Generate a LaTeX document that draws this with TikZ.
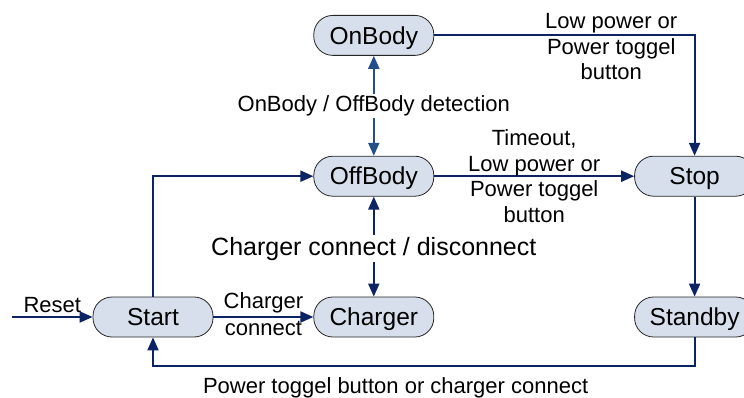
\documentclass[tikz,border=0pt]{standalone}
\usepackage{fontspec}
\setmainfont{Liberation Sans}
\usepackage{tikz}
\usetikzlibrary{arrows.meta}
\usetikzlibrary{positioning}

\definecolor{navyline}{RGB}{12,35,100}
\definecolor{steelline}{RGB}{34,78,138}
\definecolor{statefill}{RGB}{214,223,235}

\begin{document}
\begin{tikzpicture}[
		x=1pt, y=-1pt,
		->,
		>={Triangle[length=13pt,width=11pt]},
		node distance=100pt,
		main node/.style={font=\fontsize{24.5}{28}\selectfont},
		state node/.style={
			main node,
			rectangle,
			rounded corners=19pt,
			draw=black!85,
			line width=0.8pt,
			fill=statefill,
			minimum width=120pt,
			minimum height=40pt,
			text height=17.5pt,
			text depth=0pt,
			inner sep=0pt
		},
		flow/.style={draw=navyline, line width=2pt},
		detect/.style={draw=steelline, line width=2pt},
		edge label/.style={font=\fontsize{22}{25.5}\selectfont, align=center, text=black},
		big label/.style={font=\fontsize{25}{29}\selectfont, text=black, fill=white, inner sep=2pt}
		]
		\useasboundingbox (0,0) rectangle (744,398);
		\clip (0,0) rectangle (744,398);

		\node[state node] (start) at (153,317) {Start};
		\node[state node] (charger) [right=of start] {Charger};
		\node[state node] (offbody) [above=of charger] {OffBody};
		\node[state node] (onbody) [above=of offbody] {OnBody};
		\node[state node] (stop) [right=200pt of offbody] {Stop};
		\node[state node] (standby) [below=of stop] {Standby};
		\coordinate (reset) at (12,317);

		\path
		(reset) edge[flow] node[edge label, above] {Reset} (start.west)
		(start) edge[flow] node[edge label, above] {Charger} node[edge label, below] {connect} (charger)
		(offbody) edge[flow] node[edge label] {Timeout,\\Low power or\\Power toggel\\button} (stop)
		(stop) edge[flow] (standby);

		\draw[flow] (start.north) |- (offbody.west);
		\draw[flow] (onbody.east) -| node[edge label, pos=0.34, below=-26pt] {Low power or\\Power toggel\\button} (stop.north);
		\draw[flow] (standby.south) -- ++(0,29) -| node[edge label, pos=0.276, below=7pt] {Power toggel button or charger connect} (start.south);

		\draw[detect, <->] (offbody) -- node[edge label, fill=white, inner sep=2pt] {OnBody / OffBody detection} (onbody);
		\draw[flow, <->] (charger) -- node[big label, yshift=-2pt] {Charger connect / disconnect} (offbody);
	\end{tikzpicture}
\end{document}
